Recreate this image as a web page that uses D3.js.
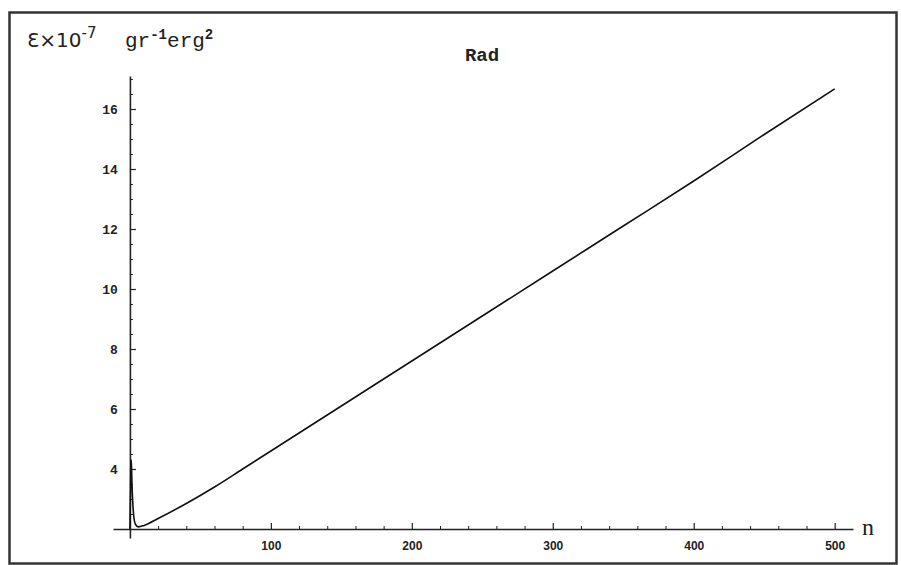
<!DOCTYPE html>
<html>
<head>
<meta charset="utf-8">
<script src="https://cdn.jsdelivr.net/npm/d3@7"></script>
<style>
  body { margin: 0; background: #fff; }
  svg { display: block; }
</style>
</head>
<body>
<script>
// Set SVG width and height
var width = 901,
    height = 565;

// curve: n and energy (x10^-7)
const nValues = [0, 0.3, 0.7, 1.0, 1.4, 2.0, 2.8, 4, 6, 10, 20, 40, 60, 80, 100, 150, 200, 250, 300, 350, 400, 450, 500];
const eValues = [2.0, 2.9, 4.2, 4.3, 3.6, 2.9, 2.4, 2.15, 2.07, 2.12, 2.35, 2.85, 3.4, 4.0, 4.6, 6.1, 7.6, 9.1, 10.6, 12.1, 13.6, 15.15, 16.67];

const xTicks = [100, 200, 300, 400, 500];
const xMinor = d3.range(20, 520, 20).filter(d => d % 100 !== 0);
const yTicks = [4, 6, 8, 10, 12, 14, 16];
const yMinor = d3.range(2.5, 17.1, 0.5).filter(d => d % 2 !== 0);

var svg = d3.select('body').append('svg')
    .attr('width', width)
    .attr('height', height);

// frame
svg.append('rect')
    .attr('x', 9.5).attr('y', 12.5)
    .attr('width', 887).attr('height', 551)
    .attr('fill', 'none')
    .attr('stroke', '#333')
    .attr('stroke-width', 2.5);

// scales (axes cross at n = 0, E = 2)
var x = d3.scaleLinear().domain([-12, 513]).range([113, 853]);
var y = d3.scaleLinear().domain([1.7, 17.1]).range([538, 76]);

var xAxisY = y(2), yAxisX = x(0);

// x axis
svg.append('g')
    .attr('transform', 'translate(0,' + xAxisY + ')')
    .call(d3.axisBottom(x).tickValues(xMinor).tickSize(-3).tickFormat(''))
    .call(g => g.select('.domain').remove())
    .selectAll('line').attr('stroke', '#222');

svg.append('g')
    .attr('transform', 'translate(0,' + xAxisY + ')')
    .call(d3.axisBottom(x).tickValues(xTicks).tickSizeInner(-6).tickSizeOuter(0).tickPadding(12))
    .call(g => g.select('.domain').attr('stroke', '#222').attr('stroke-width', 1.6))
    .call(g => g.selectAll('line').attr('stroke', '#222').attr('stroke-width', 1.2))
    .call(g => g.selectAll('text')
        .attr('font-family', 'Liberation Sans, Arial, sans-serif')
        .attr('font-weight', 'bold')
        .attr('font-size', 12)
        .attr('fill', '#222'));

// y axis
svg.append('g')
    .attr('transform', 'translate(' + yAxisX + ',0)')
    .call(d3.axisLeft(y).tickValues(yMinor).tickSize(-3).tickFormat(''))
    .call(g => g.select('.domain').remove())
    .selectAll('line').attr('stroke', '#222');

svg.append('g')
    .attr('transform', 'translate(' + yAxisX + ',0)')
    .call(d3.axisLeft(y).tickValues(yTicks).tickSizeInner(-6).tickSizeOuter(0).tickPadding(12))
    .call(g => g.select('.domain').attr('stroke', '#222').attr('stroke-width', 1.6))
    .call(g => g.selectAll('line').attr('stroke', '#222').attr('stroke-width', 1.2))
    .call(g => g.selectAll('text')
        .attr('font-family', 'Liberation Mono, Courier New, monospace')
        .attr('font-weight', 'bold')
        .attr('font-size', 13)
        .attr('fill', '#222'));

// curve
var line = d3.line()
    .x(function(d, i) { return x(nValues[i]); })
    .y(function(d) { return y(d); })
    .curve(d3.curveMonotoneX);

svg.append('path')
    .datum(eValues)
    .attr('d', line)
    .attr('fill', 'none')
    .attr('stroke', '#111')
    .attr('stroke-width', 1.6);

// labels
var yl = svg.append('text')
    .attr('x', 27).attr('y', 47)
    .attr('fill', '#222');
yl.append('tspan')
    .attr('font-family', 'DejaVu Sans, sans-serif')
    .attr('font-size', 20)
    .text('Ɛ×10');
yl.append('tspan')
    .attr('font-family', 'DejaVu Sans, sans-serif')
    .attr('font-size', 15)
    .attr('dy', -9)
    .text('-7');
var yl2 = svg.append('text')
    .attr('x', 125).attr('y', 47)
    .attr('fill', '#222');
yl2.append('tspan')
    .attr('font-family', 'Liberation Mono, Courier New, monospace')
    .attr('font-size', 21)
    .text('gr');
yl2.append('tspan')
    .attr('font-family', 'Liberation Mono, Courier New, monospace')
    .attr('font-size', 14)
    .attr('font-weight', 'bold')
    .attr('dy', -8)
    .text('-1');
yl2.append('tspan')
    .attr('font-family', 'Liberation Mono, Courier New, monospace')
    .attr('font-size', 21)
    .attr('dy', 8)
    .text('erg');
yl2.append('tspan')
    .attr('font-family', 'Liberation Mono, Courier New, monospace')
    .attr('font-size', 14)
    .attr('font-weight', 'bold')
    .attr('dy', -8)
    .text('2');

svg.append('text')
    .attr('x', 482).attr('y', 61)
    .attr('text-anchor', 'middle')
    .attr('font-family', 'Liberation Mono, Courier New, monospace')
    .attr('font-size', 19)
    .attr('font-weight', 'bold')
    .attr('fill', '#222')
    .text('Rad');

svg.append('text')
    .attr('x', 862).attr('y', 535)
    .attr('font-family', 'Liberation Serif, Times New Roman, serif')
    .attr('font-size', 24)
    .attr('fill', '#222')
    .text('n');
</script>
</body>
</html>
